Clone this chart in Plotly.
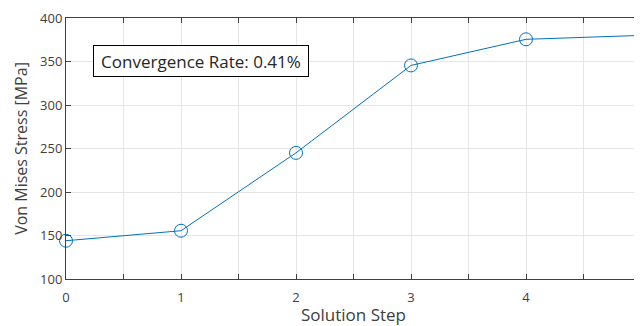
import plotly.graph_objects as go

steps = [0, 1, 2, 3, 4, 5]
stress = [144, 155.5, 245, 345.5, 375.5, 380]
xtick_vals = [0, 0.5, 1, 1.5, 2, 2.5, 3, 3.5, 4, 4.5, 5]
xtick_text = ["0", "", "1", "", "2", "", "3", "", "4", "", "5"]
ytick_vals = [100, 150, 200, 250, 300, 350, 400]
annotation_text = "Convergence Rate: 0.41%"

fig = go.Figure()
fig.add_trace(go.Scatter(
    x=steps, y=stress, mode="lines+markers",
    line=dict(color="#0072BD", width=1),
    marker=dict(symbol="circle-open", size=13, color="#0072BD", line=dict(width=1, color="#0072BD")),
    showlegend=False, cliponaxis=False,
))

axis_common = dict(
    showline=True, linecolor="#404040", linewidth=1, mirror="ticks",
    ticks="inside", ticklen=5, tickcolor="#404040",
    showgrid=True, gridcolor="#e6e6e6", gridwidth=1, zeroline=False,
    tickfont=dict(family="Open Sans", size=13, color="#404040"),
    automargin=False,
)
fig.update_xaxes(range=[0, 5], tickvals=xtick_vals, ticktext=xtick_text,
                 ticklabelstandoff=6,
                 title=dict(text="Solution Step", font=dict(family="Open Sans", size=17, color="#404040"), standoff=4),
                 **axis_common)
fig.update_yaxes(range=[100, 400], tickvals=ytick_vals,
                 title=dict(text="Von Mises Stress [MPa]", font=dict(family="Open Sans", size=16, color="#404040"), standoff=8),
                 **axis_common)

fig.add_annotation(
    x=0.047, y=0.834, xref="paper", yref="paper", xanchor="left", yanchor="middle",
    text=annotation_text, showarrow=False, width=206, height=22, align="center",
    font=dict(family="Open Sans", size=17, color="#262626"),
    bordercolor="#000000", borderwidth=1, borderpad=4, bgcolor="white",
)

fig.update_layout(
    width=642, height=326,
    margin=dict(l=58, r=9, t=10, b=55),
    paper_bgcolor="white", plot_bgcolor="white",
)
fig.write_html("out.html")
